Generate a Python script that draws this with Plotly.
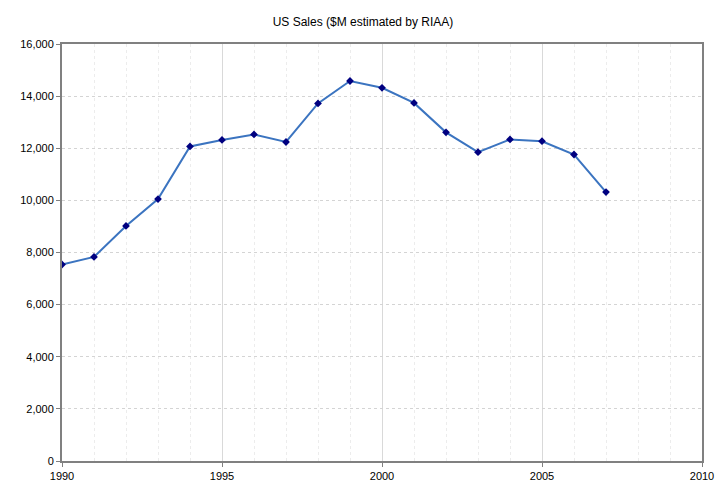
import plotly.graph_objects as go

years = list(range(1990, 2008))
sales = [7540, 7830, 9020, 10050, 12070, 12320, 12530, 12240, 13720,
         14580, 14320, 13740, 12610, 11850, 12340, 12270, 11760, 10320]

fig = go.Figure()
fig.add_trace(go.Scatter(
    x=years, y=sales, mode="lines+markers",
    line=dict(color="#3b74c0", width=2),
    marker=dict(symbol="diamond", size=6, color="#000080"),
))

# page adds ~8px body margin, so the figure is a bit smaller than the window
fig.update_layout(
    title=dict(text="US Sales ($M estimated by RIAA)", x=0.5, xanchor="center",
               y=0.98, yanchor="top",
               font=dict(family="Liberation Sans, Arial", size=12, color="#000")),
    width=710, height=480,
    margin=dict(l=54, r=16, t=36, b=27),
    paper_bgcolor="white", plot_bgcolor="white",
    showlegend=False,
    font=dict(family="Liberation Sans, Arial", size=11, color="#000"),
)
fig.update_xaxes(
    range=[1990, 2010], dtick=5, tick0=1990, automargin=False,
    showgrid=True, gridcolor="#d9d9d9", gridwidth=1,
    minor=dict(dtick=1, showgrid=True, gridcolor="#ececec", griddash="dot"),
    showline=True, linecolor="#808080", linewidth=2, mirror=True,
    ticks="outside", ticklen=4, tickcolor="#808080", zeroline=False,
)
fig.update_yaxes(
    range=[0, 16000], dtick=2000, tickformat=",", automargin=False,
    showgrid=True, gridcolor="#d4d4d4", griddash="dot",
    showline=True, linecolor="#808080", linewidth=2, mirror=True,
    ticks="outside", ticklen=4, tickcolor="#808080", zeroline=False,
)

fig.write_html("out.html")
